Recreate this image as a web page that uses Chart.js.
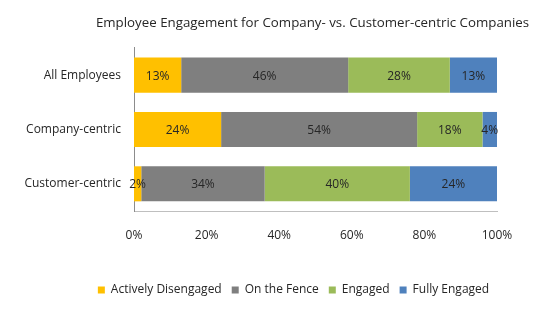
<!DOCTYPE html>
<html>
<head>
<meta charset="utf-8">
<script src="https://cdn.jsdelivr.net/npm/chart.js@4"></script>
<style>
  html, body { margin: 0; padding: 0; background: #fff; }
  #wrap { width: 550px; height: 323px; }
</style>
</head>
<body>
<div id="wrap"><canvas id="myChart"></canvas></div>
<script>
const categories = ['All Employees', 'Company-centric', 'Customer-centric']
const seriesNames = ['Actively Disengaged', 'On the Fence', 'Engaged', 'Fully Engaged']
const activelyDisengaged = [13, 24, 2]
const onTheFence = [46, 54, 34]
const engaged = [28, 18, 40]
const fullyEngaged = [13, 4, 24]
const xTicks = [0, 20, 40, 60, 80, 100]

const colors = ['#FFC000', '#7F7F7F', '#9BBB59', '#4F81BD']
const font = "'Open Sans', sans-serif"

// draws the % numbers in the middle of each bar piece
const barLabels = {
    id: 'barLabels',
    afterDatasetsDraw(chart) {
        const ctx = chart.ctx
        ctx.save()
        ctx.font = '12px ' + font
        ctx.fillStyle = '#262626'
        ctx.textAlign = 'center'
        ctx.textBaseline = 'middle'
        chart.data.datasets.forEach((ds, i) => {
            const meta = chart.getDatasetMeta(i)
            meta.data.forEach((bar, j) => {
                const cx = (bar.x + bar.base) / 2
                ctx.fillText(ds.data[j] + '%', cx, bar.y + 1)
            })
        })
        ctx.restore()
    }
}

// title and legend sit right of the canvas middle in the original
const boxShift = {
    id: 'boxShift',
    afterLayout(chart) {
        const lg = chart.legend
        if (lg) { lg.left += 45; lg.right += 45 }
        const t = chart.titleBlock
        if (t) { t.left += 64; t.right += 64 }
    }
}

const ctx = document.getElementById('myChart').getContext('2d')
const myChart = new Chart(ctx, {
    type: 'bar',
    data: {
        labels: categories,
        datasets: [activelyDisengaged, onTheFence, engaged, fullyEngaged].map((d, i) => ({
            label: seriesNames[i],
            data: d,
            backgroundColor: colors[i],
            borderWidth: 0,
            categoryPercentage: 1,
            barPercentage: 0.645
        }))
    },
    options: {
        indexAxis: 'y',
        responsive: true,
        maintainAspectRatio: false,
        animation: false,
        layout: { padding: { left: 0, right: 53, top: 0, bottom: 17 } },
        scales: {
            x: {
                stacked: true,
                min: 0,
                max: 100,
                afterBuildTicks: (scale) => { scale.ticks = xTicks.map(v => ({ value: v })) },
                afterFit: (scale) => { scale.height = 63 },
                grid: { display: false, drawTicks: false },
                border: { display: true, color: '#BFBFBF', width: 1 },
                ticks: {
                    padding: 17,
                    color: '#262626',
                    font: { family: font, size: 12 },
                    callback: (v) => v + '%'
                }
            },
            y: {
                stacked: true,
                afterFit: (scale) => { scale.width = 134 },
                grid: { display: false, drawTicks: false },
                border: { display: true, color: '#8C8C8C', width: 1 },
                ticks: {
                    padding: 13,
                    color: '#262626',
                    font: { family: font, size: 12 }
                }
            }
        },
        plugins: {
            title: {
                display: true,
                text: 'Employee Engagement for Company- vs. Customer-centric Companies',
                color: '#262626',
                font: { family: font, size: 13.3, weight: 'normal' },
                padding: { top: 15, bottom: 17 }
            },
            legend: {
                position: 'bottom',
                labels: {
                    boxWidth: 7,
                    boxHeight: 7,
                    padding: 10,
                    color: '#262626',
                    font: { family: font, size: 12 }
                }
            },
            tooltip: { enabled: false }
        }
    },
    plugins: [barLabels, boxShift]
})
</script>
</body>
</html>
